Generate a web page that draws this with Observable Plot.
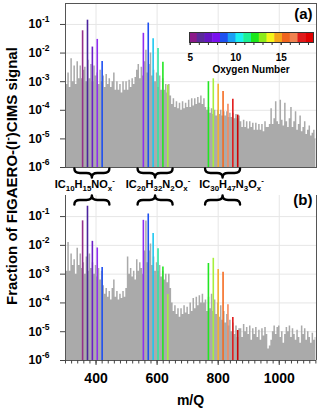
<!DOCTYPE html>
<html><head><meta charset="utf-8">
<script src="https://cdn.jsdelivr.net/npm/d3@7"></script>
<script src="https://cdn.jsdelivr.net/npm/@observablehq/plot@0.6"></script>
<style>
html,body{margin:0;padding:0;background:#fff;}
#chart{position:relative;width:320px;height:409px;overflow:hidden;font-family:"Liberation Sans",Arial,sans-serif;font-weight:bold;}
#chart > svg{position:absolute;}
</style></head><body><div id="chart"></div>
<script>
// ---------------- data ----------------
const binStart = 300, binStep = 5;          // m/Q of first spectrum bin, bin width
// log10 of gray spectrum signal, panel (a), bins 300..1120
const grayLogA = [
 -2.6,-3.1,-2.7,-3.2,-2.2,-3.0,-2.45,-3.1,-2.3,-2.9,
 -2.45,-2.9,-2.6,-2.5,-3.0,-2.25,-2.9,-2.4,-3.0,-2.45,
 -2.8,-2.7,-3.1,-2.6,-3.0,-2.8,-3.2,-2.75,-3.1,-2.9,
 -3.2,-3.0,-2.7,-3.3,-3.0,-3.3,-3.1,-3.4,-3.0,-3.3,
 -3.0,-3.3,-2.95,-3.2,-2.9,-3.1,-2.85,-2.6,-2.4,-2.9,
 -2.5,-2.8,-2.3,-1.9,-2.7,-2.4,-2.0,-2.8,-2.6,-3.0,
 -2.7,-3.2,-2.8,-3.3,-2.9,-3.3,-3.1,-3.4,-3.1,-3.5,
 -3.8,-3.6,-3.9,-3.7,-3.95,-3.75,-4.0,-3.7,-3.95,-3.75,
 -3.9,-3.65,-3.9,-3.6,-3.85,-3.6,-3.8,-3.55,-3.75,-3.5,
 -3.8,-3.6,-3.9,-4.0,-3.9,-4.1,-3.95,-4.15,-4.0,-4.2,
 -4.0,-4.15,-4.0,-4.2,-4.05,-4.2,-4.05,-4.25,-4.1,-4.25,
 -4.1,-4.3,-4.15,-4.3,-4.2,-4.4,-4.6,-4.35,-4.6,-4.4,
 -4.65,-4.4,-4.6,-4.45,-4.7,-4.45,-4.7,-4.5,-4.7,-4.5,
 -4.75,-4.4,-4.6,-4.6,-4.5,-3.95,-4.5,-4.3,-3.7,-4.4,
 -4.5,-3.65,-4.35,-4.55,-3.75,-4.4,-4.6,-4.3,-3.9,-4.6,
 -4.4,-4.05,-4.7,-4.5,-4.2,-4.75,-4.6,-4.4,-4.85,-4.7,
 -4.55,-4.9,-4.8,-4.7,-5.0
];
// log10 of gray spectrum signal, panel (b)
const grayLogB = [
 -3.2,-2.9,-1.9,-2.9,-2.3,-2.7,-2.5,-3.0,-2.1,-2.7,
 -2.3,-2.8,-2.6,-3.0,-2.4,-2.9,-2.3,-2.8,-2.6,-3.0,
 -2.7,-3.1,-2.8,-3.2,-2.9,-3.4,-3.7,-3.5,-3.8,-3.6,
 -3.9,-3.5,-3.2,-3.8,-3.6,-3.9,-3.7,-3.85,-3.6,-3.8,
 -3.5,-2.4,-3.0,-2.8,-3.1,-2.9,-3.2,-2.5,-2.9,-2.6,
 -2.8,-3.0,-2.2,-1.15,-2.6,-2.2,-1.95,-2.7,-2.4,-2.9,
 -2.6,-2.9,-2.7,-3.1,-2.9,-3.2,-3.0,-3.3,-3.0,-3.5,
 -4.0,-4.3,-4.1,-4.4,-4.2,-4.5,-4.2,-4.4,-4.1,-4.35,
 -4.15,-4.4,-4.0,-4.3,-3.85,-4.2,-3.8,-4.1,-3.75,-4.0,
 -3.7,-4.0,-3.9,-4.3,-3.8,-4.2,-3.7,-4.3,-3.9,-4.4,
 -4.0,-4.5,-4.1,-4.6,-4.3,-4.7,-4.4,-4.8,-4.6,-5.0,
 -4.7,-5.1,-4.8,-5.2,-4.9,-4.9,-5.2,-4.75,-5.0,-4.85,
 -5.1,-4.8,-5.3,-4.9,-5.1,-4.85,-5.2,-4.95,-5.3,-4.9,
 -5.15,-4.85,-5.1,-5.6,-5.5,-5.3,-5.0,-4.8,-5.1,-4.85,
 -4.8,-5.2,-5.0,-5.4,-5.1,-4.85,-5.0,-4.8,-5.2,-4.9,
 -5.1,-5.3,-4.95,-5.2,-5.4,-4.8,-5.1,-4.9,-5.3,-5.0,
 -5.2,-5.4,-5.05,-5.3,-5.2
];
// highlighted peaks
const peakGroup = [0,0,0,0,0, 1,1,1,1,1,1, 2,2,2,2,2,2,2];
const peakMz    = [356,372,388,404,420, 555,571,587,603,619,635, 768,784,800,816,832,848,864];
const peakO     = [5,6,7,8,9, 8,9,10,11,12,13, 12,13,14,15,16,17,18];
const peakA = [0.060,0.141,0.0162,0.030,0.0051, 0.049,0.112,0.0316,0.0145,0.0048,0.00076,
               0.0010,0.00126,0.00081,0.00045,0.000162,0.000245,0.000068];
const peakB = [0.071,0.229,0.0138,0.0081,0.0017, 0.074,0.123,0.0257,0.0076,0.00178,0.000195,
               0.00234,0.00355,0.00145,0.00117,0.000087,0.000031,0.000011];
const oxygenNumbers = [5,6,7,8,9,10,11,12,13,14,15,16,17,18];
const oxygenColors  = ["#952f8a","#4b239e","#6c1fc8","#8f2cf2","#1d4ff2","#1ec8f0","#2ee8a0","#22e622",
                       "#a6f03c","#f5b030","#f56a20","#f58a60","#e21a1a","#cc0000"];
const colorbarColors = ["#8b1a89","#5a2a9a","#6614c4","#7a10f0","#1e50f0","#1aa0f5","#1af0f0","#1af096",
                        "#1ae61a","#8ceb1a","#f5f51a","#f5a51a","#f0641e","#f08250","#e01a1a","#e00000"];
const colorbarDomain = [4.92, 18.55];
const colorbarTicks = [5,10,15];
const groupLabels = [
  [["IC"],["10","sub"],["H"],["15","sub"],["NO"],["x","sub"],["-","sup"]],
  [["IC"],["20","sub"],["H"],["32","sub"],["N"],["2","sub"],["O"],["x","sub"],["-","sup"]],
  [["IC"],["30","sub"],["H"],["47","sub"],["N"],["3","sub"],["O"],["x","sub"],["-","sup"]]
];
const yTicks = [1e-6,1e-5,1e-4,1e-3,1e-2,1e-1];
const yDomain = [1e-6, 0.54];
const xDomain = [300, 1122];
const xMajor = [400,600,800,1000];
const xMinorStep = 20;
const panelTags = ["(a)","(b)"];

// ---------------- drawing ----------------
const FONT = '"Liberation Sans", Arial, sans-serif';
const chart = document.getElementById("chart");
const ocolor = new Map(oxygenNumbers.map((o,i)=>[o, oxygenColors[i]]));

function fixYLabels(svg){
  svg.querySelectorAll('g[aria-label="y-axis tick label"] text').forEach(t=>{
    const e = t.textContent;
    t.textContent = "10";
    const ts = document.createElementNS("http://www.w3.org/2000/svg","tspan");
    ts.setAttribute("dy","-6"); ts.setAttribute("font-size","8.5");
    ts.textContent = e; t.appendChild(ts);
  });
}

function panel(grayLog, peakVals, tag, isBottom){
  const gray = grayLog.map((e,i)=>({mz: binStart+i*binStep, v: Math.pow(10,e)}));
  const peaks = peakMz.map((m,i)=>({mz:m, v:peakVals[i], c: ocolor.get(peakO[i])}));
  const marks = [
    Plot.gridY(yTicks, {stroke:"#e6e6e6", strokeOpacity:1}),
    Plot.gridX(xMajor, {stroke:"#e6e6e6", strokeOpacity:1}),
    Plot.areaY(gray, {x:"mz", y1:yDomain[0], y2:"v", curve:"step", fill:"#aaaaaa", clip:true}),
    Plot.ruleX(peaks, {x:"mz", y1:yDomain[0], y2:"v", stroke:"c", strokeWidth:1.6}),
    Plot.axisY({ticks:yTicks, tickSize:5, tickPadding:11, stroke:"#444", label:null,
      tickFormat:d=>String(Math.round(Math.log10(d))), fontSize:12, fontWeight:"bold"}),
    Plot.text([tag], {text:d=>d, frameAnchor:"top-right", dx:-4, dy: isBottom ? -1 : 5, fontSize:15, fontWeight:"bold", fill:"#000"})
  ];
  if (isBottom){
    marks.push(
      Plot.ruleX([xDomain[0], xDomain[1]], {stroke:"#555"}),
      Plot.ruleY([yDomain[0]], {stroke:"#555"}),
      Plot.axisX({ticks:d3.range(xDomain[0], xDomain[1], xMinorStep), tickSize:3.5, stroke:"#444", tickFormat:()=>"", label:null}),
      Plot.axisX({ticks:xMajor, tickSize:5, tickPadding:8, stroke:"#444", tickFormat:d=>String(d), fontSize:14, fontWeight:"bold", label:null})
    );
  } else {
    marks.push(Plot.frame({stroke:"#555"}));
  }
  const p = Plot.plot({
    width:320, height: isBottom ? 217 : 170,
    marginLeft:65, marginRight:4, marginTop:3, marginBottom: isBottom ? 49 : 3,
    x:{domain:xDomain, axis: isBottom ? undefined : null},
    y:{type:"log", domain:yDomain},
    color:{type:"identity"},
    style:{fontFamily:FONT, fontWeight:"bold", color:"#000", background:"transparent", overflow:"visible"},
    marks
  });
  fixYLabels(p);
  return p;
}

const pa = panel(grayLogA, peakA, panelTags[0], false);
pa.style.left = "0px"; pa.style.top = "0px";
chart.appendChild(pa);
const pb = panel(grayLogB, peakB, panelTags[1], true);
pb.style.left = "0px"; pb.style.top = "192px";
chart.appendChild(pb);

// colour bar legend
const cbN = colorbarColors.length, cbW = (colorbarDomain[1]-colorbarDomain[0])/cbN;
const cbSeg = colorbarColors.map((c,i)=>({x1: colorbarDomain[0]+i*cbW, x2: colorbarDomain[0]+(i+1)*cbW + (i<cbN-1?0.05:0), c}));
const cb = Plot.plot({
  width:140, height:36, marginLeft:9, marginRight:7, marginTop:4, marginBottom:22,
  x:{domain:colorbarDomain}, y:{domain:[0,1], axis:null}, color:{type:"identity"},
  style:{fontFamily:FONT, fontWeight:"bold", color:"#000", background:"transparent", overflow:"visible"},
  marks:[
    Plot.rect(cbSeg, {x1:"x1", x2:"x2", y1:0, y2:1, fill:"c", inset:0}),
    Plot.frame({stroke:"#333"}),
    Plot.axisX({ticks:d3.range(5,19), tickSize:3, stroke:"#333", tickFormat:()=>"", label:null}),
    Plot.axisX({ticks:colorbarTicks, tickSize:3, tickPadding:8, stroke:"#333", tickFormat:d=>String(d), fontSize:10, fontWeight:"bold", label:null})
  ]
});
cb.style.left = "180px"; cb.style.top = "28px";
chart.appendChild(cb);

// annotation overlay: axis titles, braces, formula labels
const ov = d3.select(chart).append("svg").attr("width",320).attr("height",409)
  .style("left","0px").style("top","0px").style("pointer-events","none")
  .attr("font-family", FONT).attr("font-weight","bold").attr("fill","#000");

function rich(textSel, parts, size){
  let cur = 0;
  parts.forEach(([t,k])=>{
    const target = k==="sub" ? size*0.28 : k==="sup" ? -size*0.42 : 0;
    const ts = textSel.append("tspan").text(t).attr("dy", target-cur);
    if (k) ts.attr("font-size", size*0.72);
    cur = target;
  });
}

// y title
const yt = ov.append("text").attr("transform","translate(17,176) rotate(-90)")
  .attr("text-anchor","middle").attr("font-size",15);
rich(yt, [["Fraction of FIGAERO-(I"],["-","sup"],[")CIMS signal"]], 15);

// x title
ov.append("text").attr("x",190.5).attr("y",405).attr("text-anchor","middle").attr("font-size",14).text("m/Q");

// colour bar title
ov.append("text").attr("x",251).attr("y",73.3).attr("text-anchor","middle").attr("font-size",10).text("Oxygen Number");

// braces + labels
const xs = pa.scale ? pa.scale("x") : null;
const xpix = v => (xs && xs.apply) ? xs.apply(v) : 65 + (v-xDomain[0])/(xDomain[1]-xDomain[0])*251;
const labelDx = [-7, 3, 9];
function brace(cx, y0, w, h){
  const L = cx-w/2, R = cx+w/2, m = y0+h/2, e = Math.abs(h)/2+1;
  return `M${L},${y0} Q${L},${m} ${L+e},${m} L${cx-e},${m} Q${cx},${m} ${cx},${y0+h} Q${cx},${m} ${cx+e},${m} L${R-e},${m} Q${R},${m} ${R},${y0}`;
}
groupLabels.forEach((parts,g)=>{
  const ms = peakMz.filter((m,i)=>peakGroup[i]===g);
  const cx = xpix((d3.min(ms)+d3.max(ms))/2);
  ov.append("path").attr("d", brace(cx, 168.5, 35, 9)).attr("fill","none").attr("stroke","#000")
    .attr("stroke-width",2.4).attr("stroke-linecap","round").attr("stroke-linejoin","round");
  ov.append("path").attr("d", brace(cx, 204.5, 35, -9)).attr("fill","none").attr("stroke","#000")
    .attr("stroke-width",2.4).attr("stroke-linecap","round").attr("stroke-linejoin","round");
  const t = ov.append("text").attr("x", cx+labelDx[g]).attr("y",188).attr("text-anchor","middle").attr("font-size",11);
  rich(t, parts, 11);
});
</script></body></html>
